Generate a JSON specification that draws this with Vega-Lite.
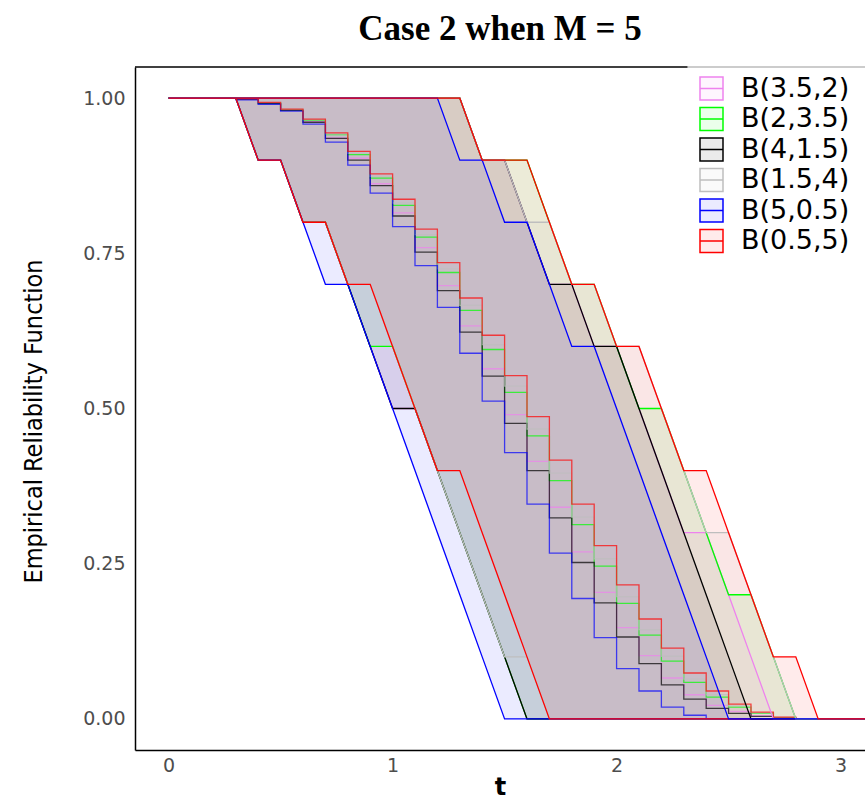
{
"$schema": "https://vega.github.io/schema/vega-lite/v6.json",
"width": 730, "height": 683,
"autosize": {"type": "none"},
"padding": {"left": 135, "top": 67, "right": 0, "bottom": 49},
"background": "white",
"config": {"view": {"stroke": null}},
"title": {"text": "Case 2 when M = 5", "font": "Liberation Serif", "fontSize": 35, "fontWeight": "bold", "color": "black", "anchor": "middle", "frame": "group", "baseline": "alphabetic", "offset": -9},
"data": {"values": [
{"g":"B(3.5,2)","t":0,"s":1,"lo":1,"hi":1},
{"g":"B(3.5,2)","t":0.3,"s":0.998,"lo":1,"hi":1},
{"g":"B(3.5,2)","t":0.4,"s":0.992,"lo":0.9,"hi":1},
{"g":"B(3.5,2)","t":0.5,"s":0.981,"lo":0.9,"hi":1},
{"g":"B(3.5,2)","t":0.6,"s":0.962,"lo":0.8,"hi":1},
{"g":"B(3.5,2)","t":0.7,"s":0.936,"lo":0.8,"hi":1},
{"g":"B(3.5,2)","t":0.8,"s":0.903,"lo":0.7,"hi":1},
{"g":"B(3.5,2)","t":0.9,"s":0.862,"lo":0.6,"hi":1},
{"g":"B(3.5,2)","t":1.0,"s":0.815,"lo":0.5,"hi":1},
{"g":"B(3.5,2)","t":1.1,"s":0.759,"lo":0.5,"hi":1},
{"g":"B(3.5,2)","t":1.2,"s":0.698,"lo":0.4,"hi":1},
{"g":"B(3.5,2)","t":1.3,"s":0.633,"lo":0.3,"hi":1},
{"g":"B(3.5,2)","t":1.4,"s":0.564,"lo":0.2,"hi":0.9},
{"g":"B(3.5,2)","t":1.5,"s":0.490,"lo":0.1,"hi":0.9},
{"g":"B(3.5,2)","t":1.6,"s":0.415,"lo":0,"hi":0.8},
{"g":"B(3.5,2)","t":1.7,"s":0.341,"lo":0,"hi":0.7},
{"g":"B(3.5,2)","t":1.8,"s":0.269,"lo":0,"hi":0.7},
{"g":"B(3.5,2)","t":1.9,"s":0.204,"lo":0,"hi":0.6},
{"g":"B(3.5,2)","t":2.0,"s":0.147,"lo":0,"hi":0.6},
{"g":"B(3.5,2)","t":2.1,"s":0.102,"lo":0,"hi":0.5},
{"g":"B(3.5,2)","t":2.2,"s":0.066,"lo":0,"hi":0.4},
{"g":"B(3.5,2)","t":2.3,"s":0.039,"lo":0,"hi":0.3},
{"g":"B(3.5,2)","t":2.4,"s":0.022,"lo":0,"hi":0.3},
{"g":"B(3.5,2)","t":2.5,"s":0.012,"lo":0,"hi":0.2},
{"g":"B(3.5,2)","t":2.6,"s":0.005,"lo":0,"hi":0.1},
{"g":"B(3.5,2)","t":2.7,"s":0.002,"lo":0,"hi":0},
{"g":"B(3.5,2)","t":2.8,"s":0,"lo":0,"hi":0},
{"g":"B(3.5,2)","t":3.2,"s":0,"lo":0,"hi":0},
{"g":"B(2,3.5)","t":0,"s":1,"lo":1,"hi":1},
{"g":"B(2,3.5)","t":0.3,"s":0.999,"lo":1,"hi":1},
{"g":"B(2,3.5)","t":0.4,"s":0.992,"lo":0.9,"hi":1},
{"g":"B(2,3.5)","t":0.5,"s":0.981,"lo":0.9,"hi":1},
{"g":"B(2,3.5)","t":0.6,"s":0.964,"lo":0.8,"hi":1},
{"g":"B(2,3.5)","t":0.7,"s":0.941,"lo":0.8,"hi":1},
{"g":"B(2,3.5)","t":0.8,"s":0.909,"lo":0.7,"hi":1},
{"g":"B(2,3.5)","t":0.9,"s":0.871,"lo":0.6,"hi":1},
{"g":"B(2,3.5)","t":1.0,"s":0.827,"lo":0.6,"hi":1},
{"g":"B(2,3.5)","t":1.1,"s":0.776,"lo":0.5,"hi":1},
{"g":"B(2,3.5)","t":1.2,"s":0.719,"lo":0.4,"hi":1},
{"g":"B(2,3.5)","t":1.3,"s":0.658,"lo":0.3,"hi":1},
{"g":"B(2,3.5)","t":1.4,"s":0.595,"lo":0.2,"hi":0.9},
{"g":"B(2,3.5)","t":1.5,"s":0.526,"lo":0.1,"hi":0.9},
{"g":"B(2,3.5)","t":1.6,"s":0.456,"lo":0,"hi":0.9},
{"g":"B(2,3.5)","t":1.7,"s":0.384,"lo":0,"hi":0.8},
{"g":"B(2,3.5)","t":1.8,"s":0.313,"lo":0,"hi":0.7},
{"g":"B(2,3.5)","t":1.9,"s":0.246,"lo":0,"hi":0.7},
{"g":"B(2,3.5)","t":2.0,"s":0.186,"lo":0,"hi":0.6},
{"g":"B(2,3.5)","t":2.1,"s":0.135,"lo":0,"hi":0.5},
{"g":"B(2,3.5)","t":2.2,"s":0.093,"lo":0,"hi":0.5},
{"g":"B(2,3.5)","t":2.3,"s":0.059,"lo":0,"hi":0.4},
{"g":"B(2,3.5)","t":2.4,"s":0.035,"lo":0,"hi":0.3},
{"g":"B(2,3.5)","t":2.5,"s":0.019,"lo":0,"hi":0.2},
{"g":"B(2,3.5)","t":2.6,"s":0.009,"lo":0,"hi":0.2},
{"g":"B(2,3.5)","t":2.7,"s":0.002,"lo":0,"hi":0.1},
{"g":"B(2,3.5)","t":2.8,"s":0,"lo":0,"hi":0},
{"g":"B(2,3.5)","t":3.2,"s":0,"lo":0,"hi":0},
{"g":"B(4,1.5)","t":0,"s":1,"lo":1,"hi":1},
{"g":"B(4,1.5)","t":0.3,"s":0.998,"lo":1,"hi":1},
{"g":"B(4,1.5)","t":0.4,"s":0.991,"lo":0.9,"hi":1},
{"g":"B(4,1.5)","t":0.5,"s":0.980,"lo":0.9,"hi":1},
{"g":"B(4,1.5)","t":0.6,"s":0.961,"lo":0.8,"hi":1},
{"g":"B(4,1.5)","t":0.7,"s":0.935,"lo":0.8,"hi":1},
{"g":"B(4,1.5)","t":0.8,"s":0.900,"lo":0.7,"hi":1},
{"g":"B(4,1.5)","t":0.9,"s":0.859,"lo":0.6,"hi":1},
{"g":"B(4,1.5)","t":1.0,"s":0.810,"lo":0.5,"hi":1},
{"g":"B(4,1.5)","t":1.1,"s":0.752,"lo":0.5,"hi":1},
{"g":"B(4,1.5)","t":1.2,"s":0.690,"lo":0.4,"hi":1},
{"g":"B(4,1.5)","t":1.3,"s":0.623,"lo":0.3,"hi":1},
{"g":"B(4,1.5)","t":1.4,"s":0.552,"lo":0.2,"hi":0.9},
{"g":"B(4,1.5)","t":1.5,"s":0.476,"lo":0.1,"hi":0.9},
{"g":"B(4,1.5)","t":1.6,"s":0.400,"lo":0,"hi":0.8},
{"g":"B(4,1.5)","t":1.7,"s":0.324,"lo":0,"hi":0.7},
{"g":"B(4,1.5)","t":1.8,"s":0.252,"lo":0,"hi":0.7},
{"g":"B(4,1.5)","t":1.9,"s":0.187,"lo":0,"hi":0.6},
{"g":"B(4,1.5)","t":2.0,"s":0.132,"lo":0,"hi":0.6},
{"g":"B(4,1.5)","t":2.1,"s":0.089,"lo":0,"hi":0.5},
{"g":"B(4,1.5)","t":2.2,"s":0.055,"lo":0,"hi":0.4},
{"g":"B(4,1.5)","t":2.3,"s":0.032,"lo":0,"hi":0.3},
{"g":"B(4,1.5)","t":2.4,"s":0.017,"lo":0,"hi":0.2},
{"g":"B(4,1.5)","t":2.5,"s":0.009,"lo":0,"hi":0.1},
{"g":"B(4,1.5)","t":2.6,"s":0.004,"lo":0,"hi":0},
{"g":"B(4,1.5)","t":2.7,"s":0.001,"lo":0,"hi":0},
{"g":"B(4,1.5)","t":2.8,"s":0,"lo":0,"hi":0},
{"g":"B(4,1.5)","t":3.2,"s":0,"lo":0,"hi":0},
{"g":"B(1.5,4)","t":0,"s":1,"lo":1,"hi":1},
{"g":"B(1.5,4)","t":0.3,"s":0.999,"lo":1,"hi":1},
{"g":"B(1.5,4)","t":0.4,"s":0.993,"lo":0.9,"hi":1},
{"g":"B(1.5,4)","t":0.5,"s":0.982,"lo":0.9,"hi":1},
{"g":"B(1.5,4)","t":0.6,"s":0.965,"lo":0.8,"hi":1},
{"g":"B(1.5,4)","t":0.7,"s":0.942,"lo":0.8,"hi":1},
{"g":"B(1.5,4)","t":0.8,"s":0.911,"lo":0.7,"hi":1},
{"g":"B(1.5,4)","t":0.9,"s":0.874,"lo":0.7,"hi":1},
{"g":"B(1.5,4)","t":1.0,"s":0.831,"lo":0.6,"hi":1},
{"g":"B(1.5,4)","t":1.1,"s":0.780,"lo":0.5,"hi":1},
{"g":"B(1.5,4)","t":1.2,"s":0.725,"lo":0.4,"hi":1},
{"g":"B(1.5,4)","t":1.3,"s":0.666,"lo":0.3,"hi":1},
{"g":"B(1.5,4)","t":1.4,"s":0.603,"lo":0.2,"hi":0.9},
{"g":"B(1.5,4)","t":1.5,"s":0.536,"lo":0.1,"hi":0.9},
{"g":"B(1.5,4)","t":1.6,"s":0.467,"lo":0.1,"hi":0.8},
{"g":"B(1.5,4)","t":1.7,"s":0.396,"lo":0,"hi":0.8},
{"g":"B(1.5,4)","t":1.8,"s":0.325,"lo":0,"hi":0.7},
{"g":"B(1.5,4)","t":1.9,"s":0.258,"lo":0,"hi":0.7},
{"g":"B(1.5,4)","t":2.0,"s":0.197,"lo":0,"hi":0.6},
{"g":"B(1.5,4)","t":2.1,"s":0.144,"lo":0,"hi":0.6},
{"g":"B(1.5,4)","t":2.2,"s":0.101,"lo":0,"hi":0.5},
{"g":"B(1.5,4)","t":2.3,"s":0.064,"lo":0,"hi":0.4},
{"g":"B(1.5,4)","t":2.4,"s":0.039,"lo":0,"hi":0.3},
{"g":"B(1.5,4)","t":2.5,"s":0.021,"lo":0,"hi":0.3},
{"g":"B(1.5,4)","t":2.6,"s":0.010,"lo":0,"hi":0.2},
{"g":"B(1.5,4)","t":2.7,"s":0.003,"lo":0,"hi":0.1},
{"g":"B(1.5,4)","t":2.8,"s":0,"lo":0,"hi":0},
{"g":"B(1.5,4)","t":3.2,"s":0,"lo":0,"hi":0},
{"g":"B(5,0.5)","t":0,"s":1,"lo":1,"hi":1},
{"g":"B(5,0.5)","t":0.3,"s":0.997,"lo":1,"hi":1},
{"g":"B(5,0.5)","t":0.4,"s":0.990,"lo":0.9,"hi":1},
{"g":"B(5,0.5)","t":0.5,"s":0.979,"lo":0.9,"hi":1},
{"g":"B(5,0.5)","t":0.6,"s":0.958,"lo":0.8,"hi":1},
{"g":"B(5,0.5)","t":0.7,"s":0.929,"lo":0.7,"hi":1},
{"g":"B(5,0.5)","t":0.8,"s":0.892,"lo":0.7,"hi":1},
{"g":"B(5,0.5)","t":0.9,"s":0.847,"lo":0.6,"hi":1},
{"g":"B(5,0.5)","t":1.0,"s":0.793,"lo":0.5,"hi":1},
{"g":"B(5,0.5)","t":1.1,"s":0.730,"lo":0.4,"hi":1},
{"g":"B(5,0.5)","t":1.2,"s":0.663,"lo":0.3,"hi":1},
{"g":"B(5,0.5)","t":1.3,"s":0.589,"lo":0.2,"hi":0.9},
{"g":"B(5,0.5)","t":1.4,"s":0.512,"lo":0.1,"hi":0.9},
{"g":"B(5,0.5)","t":1.5,"s":0.429,"lo":0,"hi":0.8},
{"g":"B(5,0.5)","t":1.6,"s":0.346,"lo":0,"hi":0.8},
{"g":"B(5,0.5)","t":1.7,"s":0.267,"lo":0,"hi":0.7},
{"g":"B(5,0.5)","t":1.8,"s":0.194,"lo":0,"hi":0.6},
{"g":"B(5,0.5)","t":1.9,"s":0.131,"lo":0,"hi":0.6},
{"g":"B(5,0.5)","t":2.0,"s":0.081,"lo":0,"hi":0.5},
{"g":"B(5,0.5)","t":2.1,"s":0.045,"lo":0,"hi":0.4},
{"g":"B(5,0.5)","t":2.2,"s":0.019,"lo":0,"hi":0.3},
{"g":"B(5,0.5)","t":2.3,"s":0.006,"lo":0,"hi":0.2},
{"g":"B(5,0.5)","t":2.4,"s":0,"lo":0,"hi":0.1},
{"g":"B(5,0.5)","t":2.5,"s":0,"lo":0,"hi":0},
{"g":"B(5,0.5)","t":3.2,"s":0,"lo":0,"hi":0},
{"g":"B(0.5,5)","t":0,"s":1,"lo":1,"hi":1},
{"g":"B(0.5,5)","t":0.3,"s":0.999,"lo":1,"hi":1},
{"g":"B(0.5,5)","t":0.4,"s":0.993,"lo":0.9,"hi":1},
{"g":"B(0.5,5)","t":0.5,"s":0.982,"lo":0.9,"hi":1},
{"g":"B(0.5,5)","t":0.6,"s":0.966,"lo":0.8,"hi":1},
{"g":"B(0.5,5)","t":0.7,"s":0.944,"lo":0.8,"hi":1},
{"g":"B(0.5,5)","t":0.8,"s":0.914,"lo":0.7,"hi":1},
{"g":"B(0.5,5)","t":0.9,"s":0.878,"lo":0.7,"hi":1},
{"g":"B(0.5,5)","t":1.0,"s":0.837,"lo":0.6,"hi":1},
{"g":"B(0.5,5)","t":1.1,"s":0.789,"lo":0.5,"hi":1},
{"g":"B(0.5,5)","t":1.2,"s":0.735,"lo":0.4,"hi":1},
{"g":"B(0.5,5)","t":1.3,"s":0.678,"lo":0.4,"hi":1},
{"g":"B(0.5,5)","t":1.4,"s":0.618,"lo":0.3,"hi":0.9},
{"g":"B(0.5,5)","t":1.5,"s":0.553,"lo":0.2,"hi":0.9},
{"g":"B(0.5,5)","t":1.6,"s":0.487,"lo":0.1,"hi":0.9},
{"g":"B(0.5,5)","t":1.7,"s":0.417,"lo":0,"hi":0.8},
{"g":"B(0.5,5)","t":1.8,"s":0.346,"lo":0,"hi":0.7},
{"g":"B(0.5,5)","t":1.9,"s":0.279,"lo":0,"hi":0.7},
{"g":"B(0.5,5)","t":2.0,"s":0.216,"lo":0,"hi":0.6},
{"g":"B(0.5,5)","t":2.1,"s":0.161,"lo":0,"hi":0.6},
{"g":"B(0.5,5)","t":2.2,"s":0.114,"lo":0,"hi":0.5},
{"g":"B(0.5,5)","t":2.3,"s":0.074,"lo":0,"hi":0.4},
{"g":"B(0.5,5)","t":2.4,"s":0.045,"lo":0,"hi":0.4},
{"g":"B(0.5,5)","t":2.5,"s":0.024,"lo":0,"hi":0.3},
{"g":"B(0.5,5)","t":2.6,"s":0.011,"lo":0,"hi":0.2},
{"g":"B(0.5,5)","t":2.7,"s":0.003,"lo":0,"hi":0.1},
{"g":"B(0.5,5)","t":2.8,"s":0,"lo":0,"hi":0.1},
{"g":"B(0.5,5)","t":2.9,"s":0,"lo":0,"hi":0},
{"g":"B(0.5,5)","t":3.2,"s":0,"lo":0,"hi":0}
]},
"layer": [
{"mark": {"type": "area", "fillOpacity": 0.08, "clip": true},
 "encoding": {
  "x": {"field": "t", "type": "quantitative",
        "scale": {"domain": [-0.15, 3.109], "nice": false, "zero": false},
        "axis": {"values": [0, 1, 2, 3], "format": "d", "grid": false, "ticks": false, "domainColor": "black", "domainWidth": 1.5,
                 "labelFont": "DejaVu Sans", "labelFontSize": 19, "labelColor": "#4d4d4d", "labelPadding": 6,
                 "title": "t", "titleFont": "DejaVu Sans", "titleFontSize": 24, "titleFontWeight": "bold", "titleColor": "black", "titlePadding": 0}},
  "y": {"field": "lo", "type": "quantitative", "stack": null,
        "scale": {"domain": [-0.05, 1.05], "nice": false, "zero": false},
        "axis": {"values": [0, 0.25, 0.5, 0.75, 1], "format": ".2f", "grid": false, "ticks": false, "domainColor": "black", "domainWidth": 1.5,
                 "labelFont": "DejaVu Sans", "labelFontSize": 19, "labelColor": "#4d4d4d", "labelPadding": 10,
                 "title": "Empirical Reliability Function", "titleFont": "DejaVu Sans Condensed, Liberation Sans, sans-serif", "titleFontSize": 25, "titleFontWeight": "normal", "titleColor": "black", "titlePadding": 36, "titleY": 354}},
  "y2": {"field": "hi"},
  "color": {"field": "g", "type": "nominal",
            "scale": {"domain": ["B(3.5,2)", "B(2,3.5)", "B(4,1.5)", "B(1.5,4)", "B(5,0.5)", "B(0.5,5)"],
                      "range": ["#EE82EE", "#00FF00", "#000000", "#BEBEBE", "#0000FF", "#FF0000"]},
            "legend": {"title": null, "orient": "none", "legendX": 563, "legendY": 8, "padding": 0,
                       "symbolType": "M-1,-1H1V1H-1Z M-1,0H1", "symbolSize": 529, "rowPadding": 1.5,
                       "labelFont": "DejaVu Sans", "labelFontSize": 27, "labelColor": "black", "labelOffset": 16, "labelLimit": 400,
                       "encode": {"symbols": {"update": {
                          "fill": {"scale": "color", "field": "value"}, "fillOpacity": {"value": 0.08},
                          "stroke": {"scale": "color", "field": "value"}, "strokeOpacity": {"value": 1},
                          "strokeWidth": {"value": 1.5}, "opacity": {"value": 1}}}}}}
 }},
{"mark": {"type": "line", "interpolate": "step-after", "strokeWidth": 1.3, "opacity": 0.7, "clip": true},
 "encoding": {"x": {"field": "t", "type": "quantitative"}, "y": {"field": "s", "type": "quantitative"}, "color": {"field": "g", "type": "nominal"}}},
{"mark": {"type": "line", "strokeWidth": 1.3, "clip": true},
 "encoding": {"x": {"field": "t", "type": "quantitative"}, "y": {"field": "lo", "type": "quantitative"}, "color": {"field": "g", "type": "nominal"}}},
{"mark": {"type": "line", "strokeWidth": 1.3, "clip": true},
 "encoding": {"x": {"field": "t", "type": "quantitative"}, "y": {"field": "hi", "type": "quantitative"}, "color": {"field": "g", "type": "nominal"}}},
{"data": {"values": [{}]},
 "mark": {"type": "rule", "color": "black", "strokeWidth": 1.5},
 "encoding": {"y": {"datum": 1.05}, "x": {"datum": -0.15}, "x2": {"datum": 2.317}}},
{"data": {"values": [{}]},
 "mark": {"type": "rule", "color": "#9a9a9a", "strokeWidth": 1.2},
 "encoding": {"y": {"datum": 1.05}, "x": {"datum": 2.317}, "x2": {"datum": 3.109}}}
]
}
